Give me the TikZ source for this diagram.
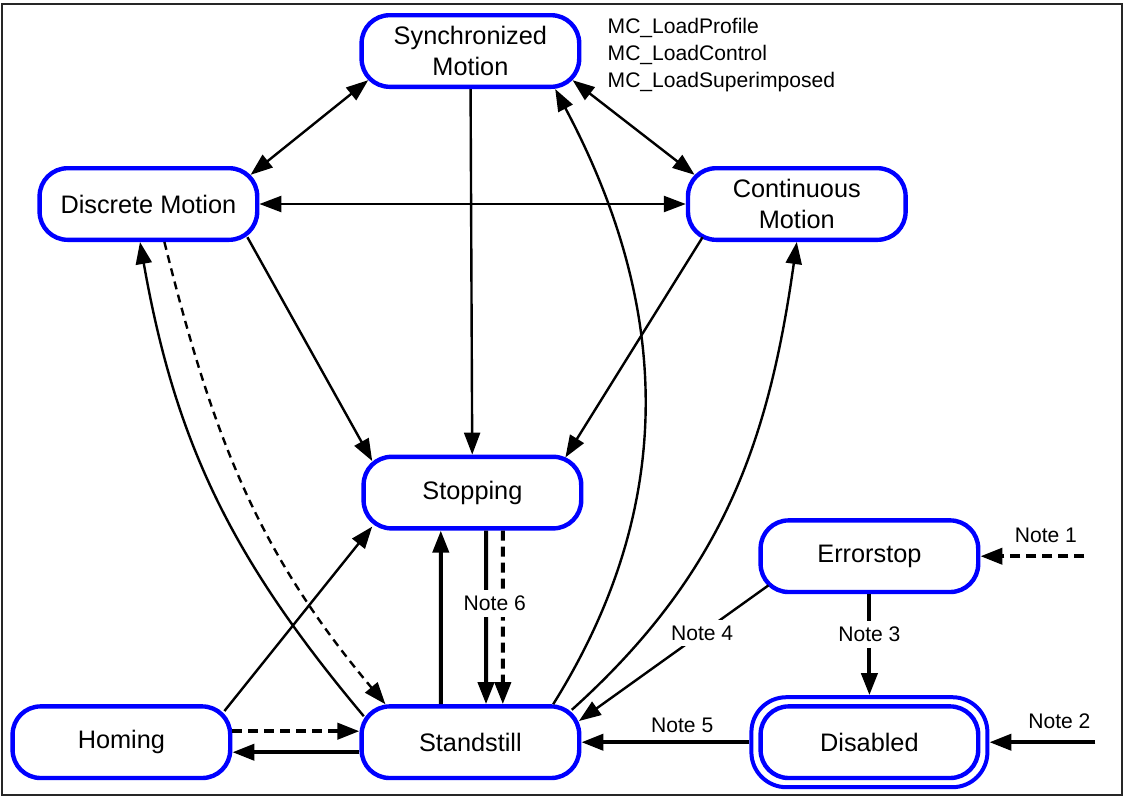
\documentclass[tikz,border=0pt]{standalone}
\usepackage{fontspec}
\setmainfont{Liberation Sans}
\usepackage{tikz}
\usetikzlibrary{arrows.meta,positioning,fit}
\definecolor{stateblue}{RGB}{0,0,255}
\tikzset{
  statebox/.style={draw=stateblue, line width=1.1mm, rounded corners=7mm, fill=white,
    minimum width=54.4mm, minimum height=17.9mm, inner sep=1mm, align=center,
    font=\fontsize{18}{21.5}\selectfont},
  ringbox/.style={draw=stateblue, line width=1mm, rounded corners=8.75mm, inner sep=1.75mm},
  notelabel/.style={font=\fontsize{15}{19}\selectfont, fill=white, inner sep=1.5mm},
  flow/.style={-{Triangle[length=5.5mm,width=4mm]}, line width=0.6mm},
  twoway/.style={{Triangle[length=5.5mm,width=4mm]}-{Triangle[length=5.5mm,width=4mm]}, line width=0.6mm},
  dashedflow/.style={flow, dash pattern=on 2mm off 1.4mm},
  boldflow/.style={-{Triangle[length=5.5mm,width=4mm]}, line width=1mm},
  bolddashed/.style={boldflow, dash pattern=on 2.5mm off 1.5mm},
  frame/.style={draw=black!85, line width=0.4mm}
}

\begin{document}
\begin{tikzpicture}
\useasboundingbox (0,0) rectangle (282.5mm,-200.75mm);
\draw[frame] (0.5mm,-1mm) rectangle (280.5mm,-198.75mm);

\node[statebox] (sync) at (117.6mm,-12.75mm) {Synchronized\\Motion};
\node[statebox, below=19.25mm of sync, xshift=-80.5mm] (discrete) {Discrete Motion};
\node[statebox, below=19.25mm of sync, xshift=81.6mm] (continuous) {Continuous\\Motion};
\node[statebox, below=91.4mm of sync, xshift=0.5mm] (stopping) {Stopping};
\node[statebox, below=43.4mm of stopping, xshift=-0.5mm] (standstill) {Standstill};
\node[statebox, left=31.75mm of standstill] (homing) {Homing};
\node[statebox, right=44.25mm of standstill] (disabled) {Disabled};
\node[ringbox, fit=(disabled)] (ring) {};
\node[statebox, above=27.5mm of disabled] (errorstop) {Errorstop};

\node[notelabel, fill=none, align=left, right=5mm of sync, yshift=-1mm] (loads)
{MC\_LoadProfile\\MC\_LoadControl\\MC\_LoadSuperimposed};

\coordinate (note1end) at ([xshift=26mm]errorstop.east);
\coordinate (note2end) at ([xshift=26.5mm]ring.east);

% moving states
\draw[twoway] ([xshift=2.2mm,yshift=2.2mm]sync.south west) -- ([xshift=-2.2mm,yshift=-2.2mm]discrete.north east);
\draw[twoway] ([xshift=-2.2mm,yshift=2.2mm]sync.south east) -- ([xshift=2.2mm,yshift=-2.2mm]continuous.north west);
\draw[twoway] (discrete) -- (continuous);
\draw[flow] (sync) -- (stopping);
\draw[flow] ([xshift=-3mm,yshift=1.2mm]discrete.south east) -- ([xshift=2.7mm,yshift=-1.6mm]stopping.north west);
\draw[flow] ([xshift=4.2mm,yshift=1.2mm]continuous.south west) -- ([xshift=-4.5mm,yshift=-0.7mm]stopping.north east);

% out of standstill
\draw[flow] ([xshift=20.7mm]standstill.north) to[out=58,in=-62] ([xshift=21.2mm]sync.south);
\draw[flow] ([xshift=-2.4mm,yshift=-1.4mm]standstill.north east) to[out=42,in=262] (continuous.south);
\draw[flow] ([xshift=1.1mm,yshift=-3mm]standstill.north west) to[out=130,in=280] ([xshift=-2.1mm]discrete.south);
\draw[dashedflow] ([xshift=4mm]discrete.south) to[out=284,in=130] ([xshift=6.5mm]standstill.north west);
\draw[flow] ([xshift=-2mm,yshift=-1.7mm]homing.north east) -- ([xshift=2.7mm,yshift=1mm]stopping.south west);

% stopping and homing
\draw[boldflow] ([xshift=-7.4mm]standstill.north) -- ([xshift=-7.9mm]stopping.south);
\draw[bolddashed] ([xshift=7.6mm]stopping.south) -- ([xshift=8.1mm]standstill.north);
\draw[boldflow] ([xshift=3.4mm]stopping.south) -- node[notelabel, pos=0.42, xshift=2.2mm] {Note 6} ([xshift=3.9mm]standstill.north);
\draw[bolddashed] ([yshift=2.75mm]homing.east) -- ([yshift=2.75mm]standstill.west);
\draw[boldflow] ([yshift=-2.5mm]standstill.west) -- ([yshift=-2.5mm]homing.east);

% errors
\draw[flow] ([xshift=2.5mm,yshift=2.2mm]errorstop.south west) -- node[notelabel, pos=0.35] {Note 4} ([xshift=-0.6mm,yshift=-4.2mm]standstill.north east);
\draw[boldflow] (errorstop) -- node[notelabel, pos=0.4] {Note 3} (ring);
\draw[boldflow] (ring) -- node[notelabel, fill=none, above=0.3mm, pos=0.4] {Note 5} (standstill);
\draw[boldflow] (note2end) -- node[notelabel, fill=none, above=1.5mm, pos=0.34] {Note 2} (ring);
\draw[bolddashed] (note1end) -- node[notelabel, fill=none, above=1.5mm, pos=0.37] {Note 1} (errorstop);
\end{tikzpicture}
\end{document}
